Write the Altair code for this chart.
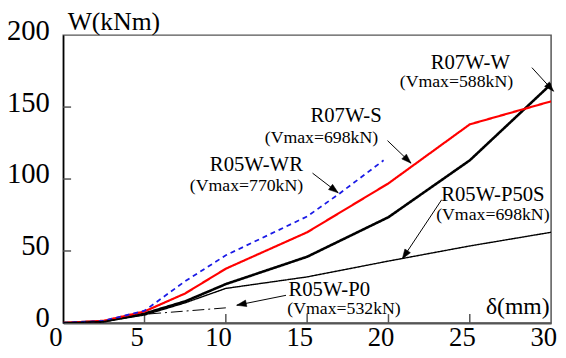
import math
import altair as alt
import pandas as pd

# ---- data ----
d_r07w_s = [0, 2.5, 5, 7.5, 10, 15, 20, 25, 30]
w_r07w_s = [0, 1.5, 8, 20.5, 37.7, 63, 97, 138, 154]
d_r07w_w = [0, 2.5, 5, 7.5, 10, 15, 20, 25, 30]
w_r07w_w = [0, 1, 6.5, 15, 27, 46, 73.5, 113, 166]
d_r05w_wr = [0, 2.5, 5, 7.5, 10, 15, 17, 19.7]
w_r05w_wr = [0, 1.5, 8.5, 29, 47, 74, 90, 113]
d_r05w_p50s = [0, 2.5, 5, 7.5, 10, 15, 20, 25, 30]
w_r05w_p50s = [0, 1, 5.5, 14, 24, 32, 43, 53.5, 63]
d_r05w_p0 = [0, 2.5, 5, 10]
w_r05w_p0 = [0, 1, 6, 10.5]

series_names = ["R07W-W", "R07W-S", "R05W-WR", "R05W-P50S", "R05W-P0"]
series_colors = ["#000000", "#ff0000", "#1a1ae6", "#000000", "#000000"]
series_widths = [2.6, 1.0, 1.3, 1.0, 1.0]
series_dash = [[1, 0], [1, 0], [5, 4], [1, 0], [12, 4, 2, 4]]

x_ticks = [5, 10, 15, 20, 25]
y_ticks = [50, 100, 150]

# annotation labels (name, vmax text) and positions in data units
lab_text = ["R07W-W", "(Vmax=588kN)", "R07W-S", "(Vmax=698kN)", "R05W-WR", "(Vmax=770kN)",
            "R05W-P50S", "(Vmax=698kN)", "R05W-P0", "(Vmax=532kN)"]
lab_x = [25.03, 24.18, 17.39, 15.88, 11.88, 11.27, 26.42, 26.42, 16.36, 17.27]
lab_y = [180.8, 167.1, 143.8, 128.8, 109.6, 95.2, 89.0, 75.3, 22.5, 9.3]
lab_size = [21, 18, 21, 18, 21, 18, 21, 18, 21, 18]

# arrows: start -> tip (data units)
arr_x1 = [28.82, 19.94, 15.33, 23.27, 13.70]
arr_y1 = [177.4, 126.7, 104.1, 85.6, 19.2]
arr_x2 = [30.15, 21.39, 16.91, 20.85, 10.67]
arr_y2 = [161.0, 111.0, 90.4, 44.5, 12.3]

W, H = 495, 292
XMAX, YMAX = 30, 200
sx = W / XMAX
sy = H / YMAX

rows = []
for name, ds, ws in zip(series_names,
                        [d_r07w_w, d_r07w_s, d_r05w_wr, d_r05w_p50s, d_r05w_p0],
                        [w_r07w_w, w_r07w_s, w_r05w_wr, w_r05w_p50s, w_r05w_p0]):
    for i, (a, b) in enumerate(zip(ds, ws)):
        rows.append({"series": name, "d": a, "w": b, "i": i})
df = pd.DataFrame(rows)

FONT = "Liberation Serif"
xs = alt.Scale(domain=[0, XMAX], nice=False, zero=False)
ys = alt.Scale(domain=[0, YMAX], nice=False, zero=False)

ax_x = alt.Axis(
    values=[0, 5, 10, 15, 20, 25, 30], ticks=False, tickSize=0, grid=False,
    labelFont=FONT, labelFontSize=27, labelColor="black", labelPadding=2, labelOffset=-8,
    labelFlush=False, labelBound=False, domainColor="#555555", domainWidth=2,
    title="δ(mm)", titleFont=FONT, titleFontSize=24, titleFontWeight="normal",
    titleAnchor="end", titleAlign="right", titleX=W - 2, titleY=-10,
    titleBaseline="alphabetic", titleColor="black")
ax_y = alt.Axis(
    values=[0, 50, 100, 150, 200], ticks=False, tickSize=0, grid=False,
    labelFont=FONT, labelFontSize=29, labelColor="black", labelPadding=14, labelOffset=-5,
    labelFlush=False, labelBound=False, domainColor="black", domainWidth=1.5,
    title="W(kNm)", titleFont=FONT, titleFontSize=26, titleFontWeight="normal",
    titleAngle=0, titleAlign="left", titleX=4, titleY=-6,
    titleBaseline="alphabetic", titleColor="black")

lines = alt.Chart(df).mark_line(clip=True).encode(
    x=alt.X("d:Q", scale=xs, axis=ax_x),
    y=alt.Y("w:Q", scale=ys, axis=ax_y),
    detail="series:N",
    order="i:Q",
    color=alt.Color("series:N", scale=alt.Scale(domain=series_names, range=series_colors), legend=None),
    strokeWidth=alt.StrokeWidth("series:N", scale=alt.Scale(domain=series_names, range=series_widths), legend=None),
    strokeDash=alt.StrokeDash("series:N", scale=alt.Scale(domain=series_names, range=series_dash), legend=None),
)

xt = alt.Chart(pd.DataFrame({"t": x_ticks})).mark_rule(color="#555555", strokeWidth=1.5).encode(
    x=alt.X("t:Q", scale=xs, axis=ax_x), y=alt.value(H), y2=alt.value(H - 9))
yt = alt.Chart(pd.DataFrame({"t": y_ticks})).mark_rule(color="#555555", strokeWidth=1.5).encode(
    y=alt.Y("t:Q", scale=ys, axis=ax_y), x=alt.value(0), x2=alt.value(8))

labels = alt.Chart(pd.DataFrame({"t": lab_text, "x": lab_x, "y": lab_y, "s": lab_size})).mark_text(
    font=FONT, color="black", align="center", baseline="middle").encode(
    x=alt.X("x:Q", scale=xs, axis=ax_x), y=alt.Y("y:Q", scale=ys, axis=ax_y), text="t:N",
    size=alt.Size("s:Q", scale=None, legend=None))

adf = pd.DataFrame({"x1": arr_x1, "y1": arr_y1, "x2": arr_x2, "y2": arr_y2})
adf["ang"] = [(math.degrees(math.atan2((b - a) * sx, (d - c) * sy)) + 360) % 360
              for a, b, c, d in zip(arr_x1, arr_x2, arr_y1, arr_y2)]
arrows = alt.Chart(adf).mark_rule(color="black", strokeWidth=1).encode(
    x=alt.X("x1:Q", scale=xs, axis=ax_x), y=alt.Y("y1:Q", scale=ys, axis=ax_y),
    x2="x2:Q", y2="y2:Q")
heads = alt.Chart(adf).mark_point(
    shape="M0,0 L0.55,1.6 L-0.55,1.6 Z", filled=True, fill="black", stroke="black",
    strokeWidth=0.5, opacity=1, size=150).encode(
    x=alt.X("x2:Q", scale=xs, axis=ax_x), y=alt.Y("y2:Q", scale=ys, axis=ax_y),
    angle=alt.Angle("ang:Q", scale=None))

chart = alt.layer(xt, yt, lines, arrows, heads, labels).properties(
    width=W, height=H,
    autosize=alt.AutoSizeParams(type="none"),
    padding={"left": 56, "top": 25, "right": 7, "bottom": 30},
    background="white",
).configure_view(stroke="#555555", strokeWidth=1.5)

chart.save("out.html", embed_options={"renderer": "svg", "actions": False})
